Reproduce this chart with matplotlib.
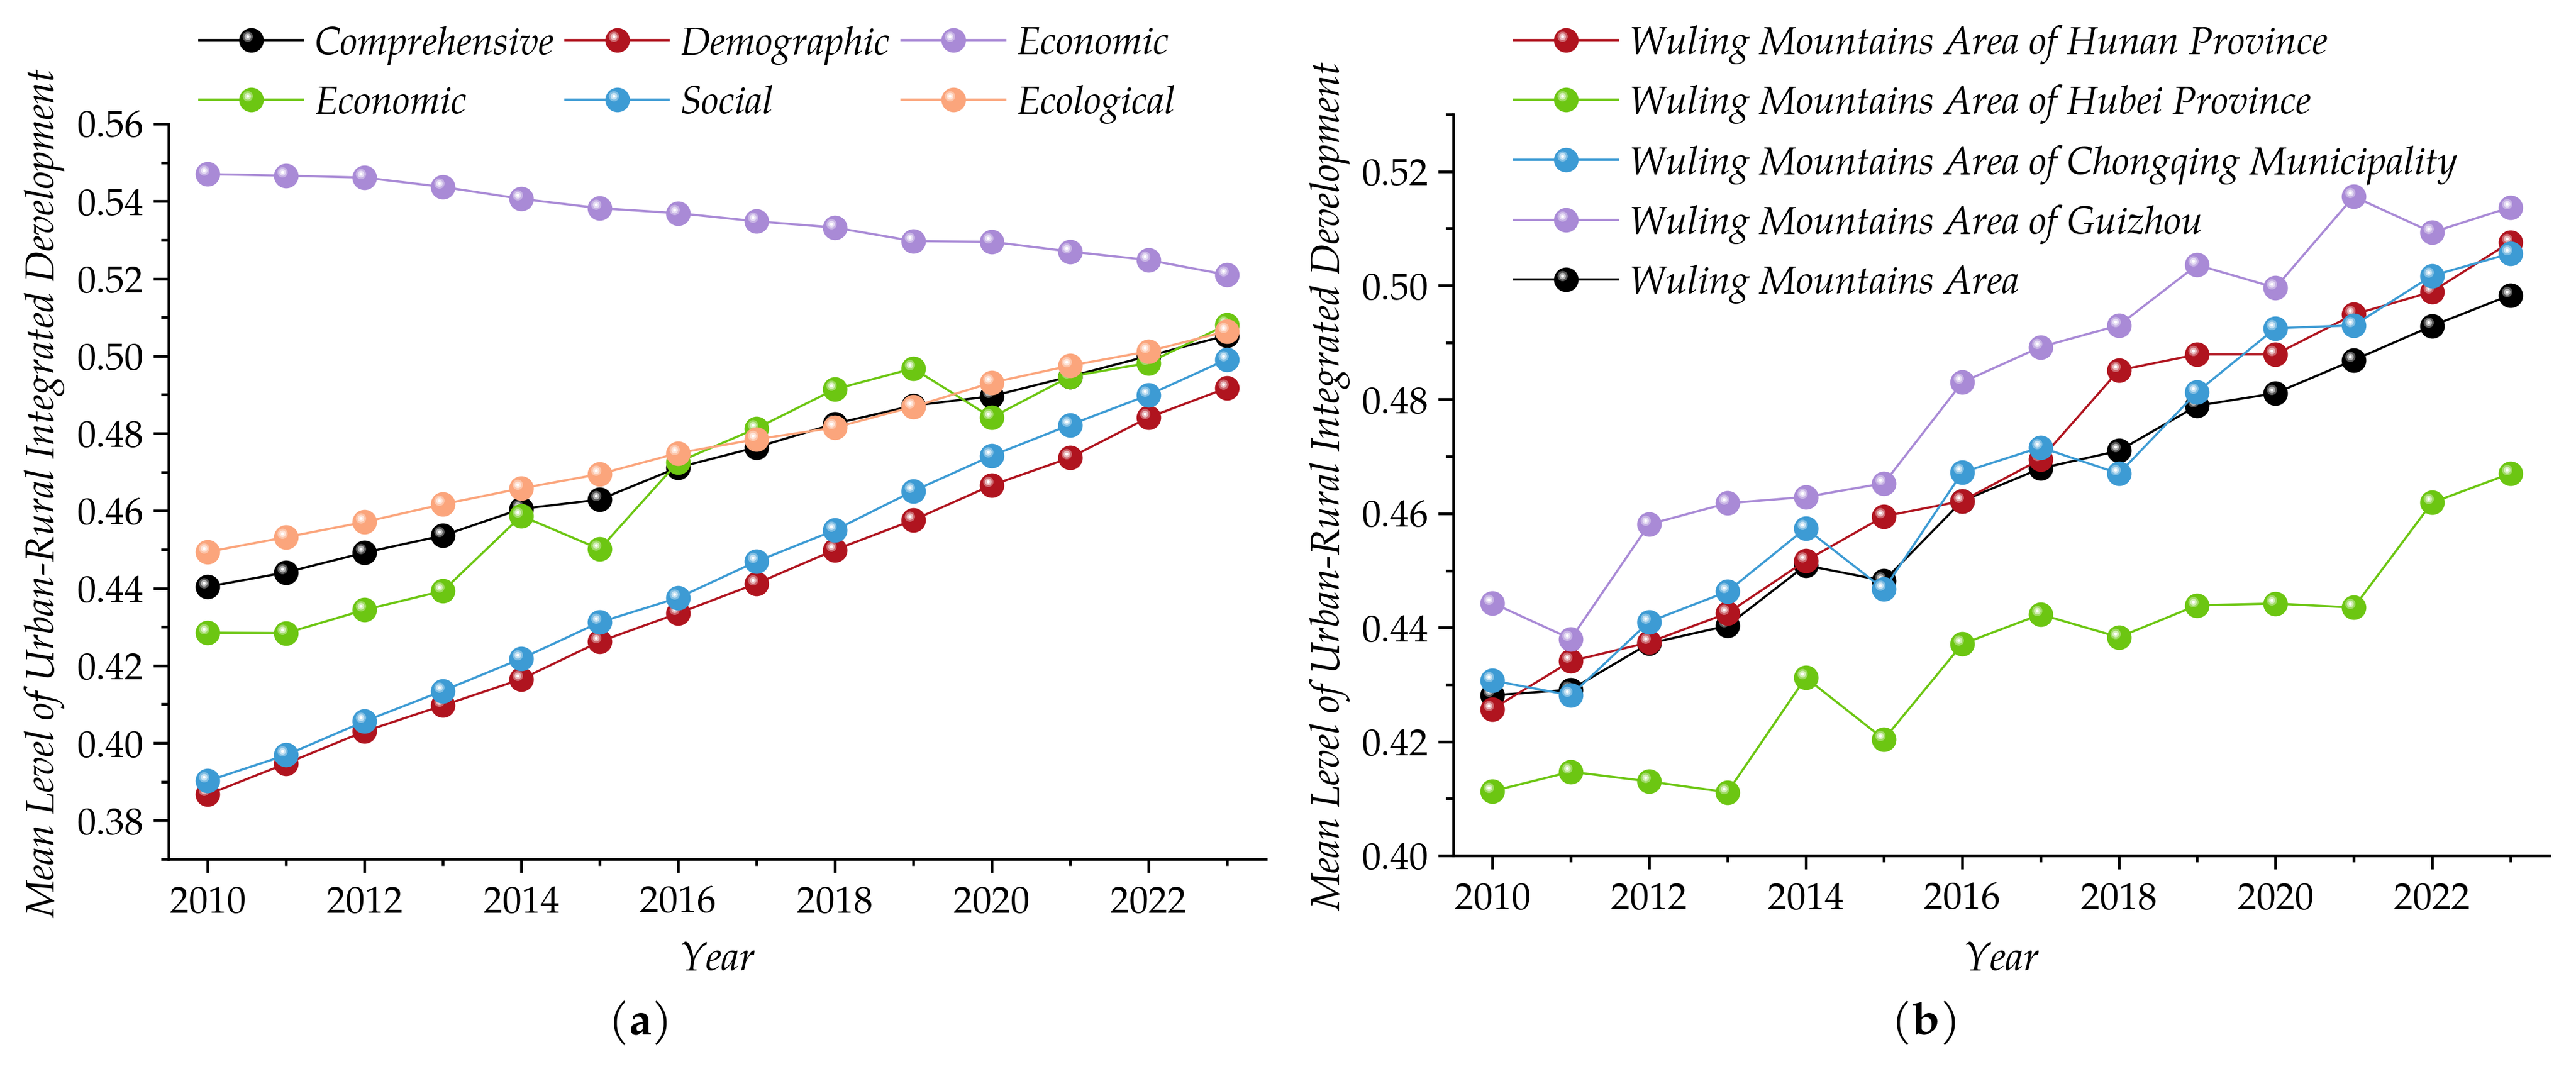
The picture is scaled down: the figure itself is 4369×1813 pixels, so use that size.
import numpy as np
import matplotlib
matplotlib.use("Agg")
import matplotlib.pyplot as plt
from matplotlib.path import Path
from matplotlib.legend_handler import HandlerTuple
from matplotlib.ticker import MultipleLocator, FormatStrFormatter
from matplotlib.colors import to_rgb

plt.rcParams['font.family'] = 'serif'
plt.rcParams['font.serif'] = ['TeX Gyre Pagella', 'P052', 'URW Palladio L', 'Palatino Linotype',
                              'Book Antiqua', 'Liberation Serif', 'DejaVu Serif']
plt.rcParams['mathtext.fontset'] = 'custom'
plt.rcParams['mathtext.rm'] = 'serif'
plt.rcParams['mathtext.bf'] = 'serif:bold'

# ---------------- data ----------------
years = list(range(2010, 2024))

# panel (a)
comprehensive = [0.4404, 0.4441, 0.4492, 0.4536, 0.4605, 0.4629, 0.4712, 0.4764, 0.4825, 0.4872, 0.4896, 0.4947, 0.5000, 0.5053]
demographic   = [0.3867, 0.3947, 0.4030, 0.4097, 0.4165, 0.4262, 0.4335, 0.4412, 0.4499, 0.4576, 0.4666, 0.4737, 0.4841, 0.4917]
economic_p    = [0.5470, 0.5466, 0.5461, 0.5437, 0.5406, 0.5382, 0.5369, 0.5348, 0.5332, 0.5297, 0.5295, 0.5270, 0.5248, 0.5210]
economic_g    = [0.4285, 0.4284, 0.4344, 0.4393, 0.4587, 0.4501, 0.4726, 0.4813, 0.4914, 0.4968, 0.4841, 0.4947, 0.4982, 0.5081]
social        = [0.3902, 0.3969, 0.4056, 0.4135, 0.4218, 0.4312, 0.4375, 0.4469, 0.4550, 0.4651, 0.4742, 0.4822, 0.4899, 0.4991]
ecological    = [0.4494, 0.4532, 0.4571, 0.4617, 0.4658, 0.4695, 0.4749, 0.4785, 0.4815, 0.4869, 0.4931, 0.4975, 0.5012, 0.5064]
labels_a = ['Comprehensive', 'Demographic', 'Economic', 'Economic', 'Social', 'Ecological']

# panel (b)
hunan     = [0.4257, 0.4341, 0.4374, 0.4425, 0.4517, 0.4595, 0.4622, 0.4695, 0.4851, 0.4879, 0.4879, 0.4949, 0.4989, 0.5076]
hubei     = [0.4113, 0.4147, 0.4130, 0.4111, 0.4312, 0.4204, 0.4371, 0.4423, 0.4383, 0.4439, 0.4442, 0.4435, 0.4619, 0.4670]
chongqing = [0.4307, 0.4281, 0.4410, 0.4463, 0.4574, 0.4467, 0.4672, 0.4716, 0.4670, 0.4813, 0.4925, 0.4930, 0.5017, 0.5056]
guizhou   = [0.4443, 0.4380, 0.4581, 0.4618, 0.4629, 0.4653, 0.4830, 0.4892, 0.4930, 0.5036, 0.4996, 0.5156, 0.5093, 0.5137]
wuling    = [0.4281, 0.4291, 0.4372, 0.4403, 0.4509, 0.4482, 0.4622, 0.4679, 0.4710, 0.4789, 0.4811, 0.4869, 0.4929, 0.4983]
labels_b = ['Wuling Mountains Area of Hunan Province',
            'Wuling Mountains Area of Hubei Province',
            'Wuling Mountains Area of Chongqing Municipality',
            'Wuling Mountains Area of Guizhou',
            'Wuling Mountains Area']

C_BLACK = '#000000'
C_RED = '#b0141f'
C_PURPLE = '#a98ad6'
C_GREEN = '#6cc612'
C_BLUE = '#3d9bd4'
C_ORANGE = '#fba57c'

FS_TICK = 15.5
FS_LABEL = 16.3
FS_LEG = 15.8
MS = 10.0
LW = 0.9


def blend(c, f):
    r = np.array(to_rgb(c))
    return tuple(r + (1 - r) * f)


def hl_path(cx, cy, r):
    circ = Path.circle((cx, cy), r)
    verts = np.concatenate([[[-1.0, -1.0], [1.0, 1.0]], circ.vertices])
    codes = np.concatenate([[Path.MOVETO, Path.MOVETO], circ.codes])
    return Path(verts, codes)


HL = [(hl_path(-0.30, 0.30, 0.42), 0.35),
      (hl_path(-0.30, 0.30, 0.27), 0.70),
      (hl_path(-0.30, 0.30, 0.12), 1.00)]


def sphere_line(ax, x, y, color, z):
    ln, = ax.plot(x, y, color=color, lw=LW, marker='o', ms=MS,
                  mfc=color, mec=color, mew=0, zorder=z, clip_on=False)
    parts = [ln]
    for k, (p, f) in enumerate(HL):
        h, = ax.plot(x, y, ls='none', marker=p, ms=MS, mfc=blend(color, f),
                     mew=0, zorder=z + 0.01 * (k + 1), clip_on=False)
        parts.append(h)
    return tuple(parts)


def style_axes(ax, ylo, yhi):
    ax.set_xlim(2009.5, 2023.5)
    ax.set_ylim(ylo, yhi)
    for s in ['top', 'right']:
        ax.spines[s].set_visible(False)
    for s in ['left', 'bottom']:
        ax.spines[s].set_linewidth(1.1)
    ax.xaxis.set_major_locator(MultipleLocator(2))
    ax.xaxis.set_minor_locator(MultipleLocator(1))
    ax.yaxis.set_major_locator(MultipleLocator(0.02))
    ax.yaxis.set_minor_locator(MultipleLocator(0.01))
    ax.yaxis.set_major_formatter(FormatStrFormatter('%.2f'))
    ax.tick_params(axis='both', which='both', direction='out', width=1.1,
                   labelsize=FS_TICK)
    ax.tick_params(axis='y', which='major', length=6.2, pad=4.0)
    ax.tick_params(axis='y', which='minor', length=3.1)
    ax.tick_params(axis='x', which='major', length=5.5, pad=5.0)
    ax.tick_params(axis='x', which='minor', length=2.6)
    ax.set_xlabel('Year', fontsize=FS_LABEL, style='italic')
    ax.set_ylabel('Mean Level of Urban-Rural Integrated Development',
                  fontsize=FS_LABEL, style='italic')
    ax.xaxis.label.set_va('center')
    ax.yaxis.label.set_va('center')


W, H = 4369, 1813
fig = plt.figure(figsize=(W / 300, H / 300), dpi=300)

# ---------------- panel (a) ----------------
axa = fig.add_axes([286 / W, 1 - 1457 / H, (2147 - 286) / W, (1457 - 210) / H])
series_a = [comprehensive, demographic, economic_p, economic_g, social, ecological]
colors_a = [C_BLACK, C_RED, C_PURPLE, C_GREEN, C_BLUE, C_ORANGE]
handles_a = []
for i, (vals, c) in enumerate(zip(series_a, colors_a)):
    handles_a.append(sphere_line(axa, years, vals, c, 2 + i * 0.1))
style_axes(axa, 0.37, 0.56)
axa.xaxis.set_label_coords(0.5, (1457 - 1630) / (1457 - 210))
axa.yaxis.set_label_coords((77 - 286) / (2147 - 286), 0.497)

order = [0, 3, 1, 4, 2, 5]
leg_a = fig.legend([handles_a[k] for k in order], [labels_a[k] for k in order],
                   handler_map={tuple: HandlerTuple(ndivide=1, pad=0)},
                   ncol=3, loc='upper left', bbox_to_anchor=(338 / W, 1 - 43 / H),
                   frameon=False, borderpad=0, borderaxespad=0,
                   handlelength=2.67, handletextpad=0.29, columnspacing=0.3,
                   labelspacing=0.52, numpoints=1,
                   prop={'size': FS_LEG, 'style': 'italic'})

# ---------------- panel (b) ----------------
axb = fig.add_axes([2465 / W, 1 - 1451 / H, (4324 - 2465) / W, (1451 - 194) / H])
series_b = [hunan, hubei, chongqing, guizhou, wuling]
colors_b = [C_RED, C_GREEN, C_BLUE, C_PURPLE, C_BLACK]
zorders_b = [2.1, 2.2, 2.3, 2.4, 2.0]
handles_b = []
for vals, c, z in zip(series_b, colors_b, zorders_b):
    handles_b.append(sphere_line(axb, years, vals, c, z))
style_axes(axb, 0.40, 0.53)
axb.xaxis.set_label_coords(0.5, (1451 - 1630) / (1451 - 194))
axb.yaxis.set_label_coords((2257 - 2465) / (4324 - 2465), 0.498)

leg_b = fig.legend(handles_b, labels_b,
                   handler_map={tuple: HandlerTuple(ndivide=1, pad=0)},
                   ncol=1, loc='upper left', bbox_to_anchor=(2568 / W, 1 - 43 / H),
                   frameon=False, borderpad=0, borderaxespad=0,
                   handlelength=2.67, handletextpad=0.29,
                   labelspacing=0.52, numpoints=1,
                   prop={'size': FS_LEG, 'style': 'italic'})

# ---------------- panel captions ----------------
fig.text(1082 / W, 1 - 1736 / H, r'($\mathbf{a}$)', ha='center', va='center', fontsize=18.5)
fig.text(3262 / W, 1 - 1736 / H, r'($\mathbf{b}$)', ha='center', va='center', fontsize=18.5)

fig.savefig('out.png', dpi=300)
